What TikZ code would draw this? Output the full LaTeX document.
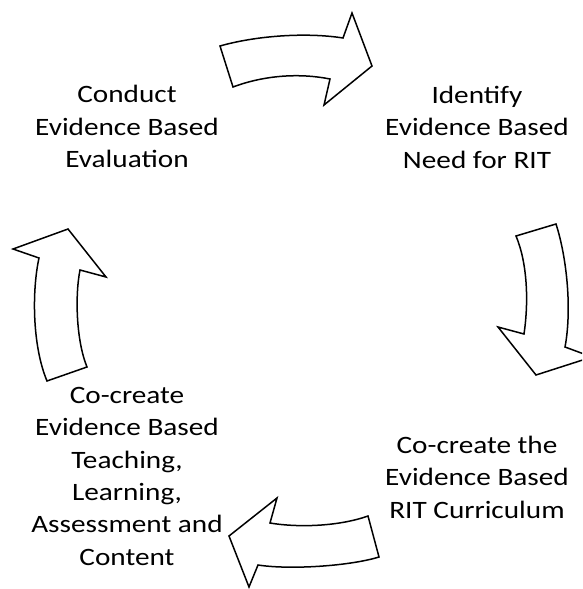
\documentclass[tikz,border=0pt]{standalone}
\usepackage{fontspec}
\setmainfont{Carlito}
\begin{document}
\begin{tikzpicture}[x=1pt,y=-1pt,
  arr/.style={draw=black,line width=1.5pt,line join=miter,fill=white},
  lbl/.style={align=center,font=\fontsize{25}{32.3}\selectfont,inner sep=0pt,anchor=base,xscale=1.17,transform shape}]
\useasboundingbox (0,0) rectangle (582,589);
\clip (0,0) rectangle (582,589);
% top arrow
\draw[arr] (220,46) .. controls (255,36) and (305,32) .. (343,38)
  -- (352,13) -- (372,66) -- (324,105) -- (330,79)
  .. controls (300,73) and (265,75) .. (233,87) -- cycle;
% right arrow
\draw[arr] (516,236) -- (556,224) .. controls (567,258) and (572,310) .. (565,347)
  -- (592,357) -- (536,375) -- (498,327) -- (524,334)
  .. controls (529,300) and (527,262) .. (516,236) -- cycle;
% bottom arrow
\draw[arr] (368,516) -- (379,557) .. controls (350,566) and (290,570) .. (258,565)
  -- (249,587) -- (229,536) -- (277,498) -- (270,523)
  .. controls (300,528) and (340,526) .. (368,516) -- cycle;
% left arrow
\draw[arr] (47,381) -- (87,367) .. controls (76,340) and (75,295) .. (80,270)
  -- (106,277) -- (68,229) -- (13,249) -- (39,258)
  .. controls (32,290) and (32,345) .. (47,381) -- cycle;
% labels
\node[lbl] (eval) at (127,167.5) {Conduct\\Evidence Based\\Evaluation};
\node[lbl] (need) at (477,168) {Identify\\Evidence Based\\Need for RIT};
\node[lbl] (curr) at (477,518) {Co-create the\\Evidence Based\\RIT Curriculum};
\node[lbl] (teach) at (127,565) {Co-create\\Evidence Based\\Teaching,\\Learning,\\Assessment and\\Content};
\end{tikzpicture}
\end{document}
